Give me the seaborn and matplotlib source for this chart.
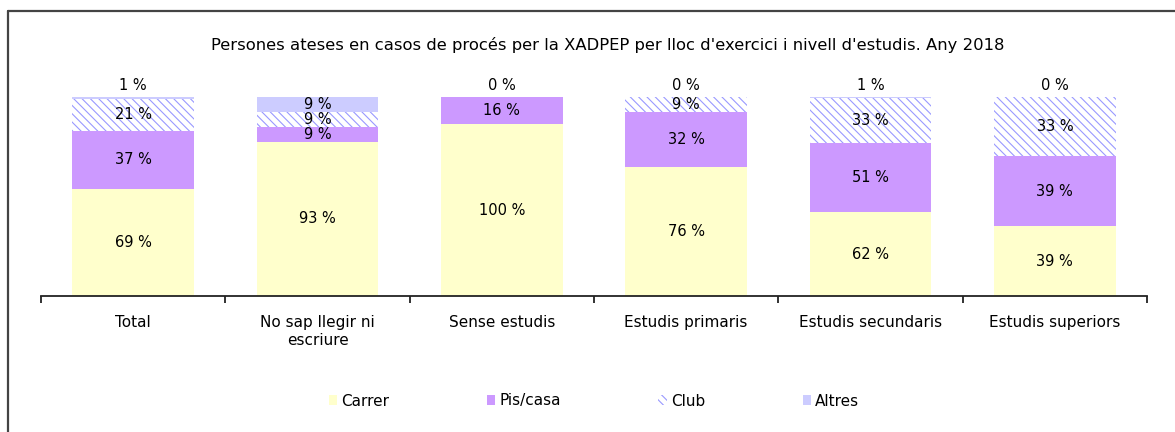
import numpy as np
import pandas as pd
import matplotlib
matplotlib.use("Agg")
import matplotlib.pyplot as plt
import seaborn as sns
from matplotlib.lines import Line2D
from matplotlib.patches import Patch

# Dades
categories = ["Total", "No sap llegir ni\nescriure", "Sense estudis",
              "Estudis primaris", "Estudis secundaris", "Estudis superiors"]
series = ["Carrer", "Pis/casa", "Club", "Altres"]
carrer = [69, 93, 100, 76, 62, 39]
pis_casa = [37, 9, 16, 32, 51, 39]
club = [21, 9, 0, 9, 33, 33]
altres = [1, 9, 0, 0, 1, 0]

colors = {"Carrer": "#FFFFCC", "Pis/casa": "#CC99FF", "Club": "white", "Altres": "#CCCCFF"}
hatches = {"Carrer": "", "Pis/casa": "", "Club": "\\\\\\\\", "Altres": ""}

df = pd.DataFrame({"cat": categories, "Carrer": carrer, "Pis/casa": pis_casa,
                   "Club": club, "Altres": altres})
# 100% apilat: cada segment com a part de la suma de la categoria
share = df[series].div(df[series].sum(axis=1), axis=0) * 100
cum = share.cumsum(axis=1)

sns.set_style("white")
plt.rcParams["font.family"] = ["DejaVu Sans"]
plt.rcParams["text.color"] = "black"
plt.rcParams["xtick.color"] = "black"
plt.rcParams["hatch.linewidth"] = 0.8

FS = 11

fig = plt.figure(figsize=(11.75, 4.32), dpi=100)
ax = fig.add_axes([41 / 1175, 1 - 296 / 432, (1147 - 41) / 1175, (296 - 97) / 432])

# capes de dalt a baix, cada una tapa la part inferior de l'anterior
for s in reversed(series):
    plot_df = pd.DataFrame({"cat": categories, "val": cum[s].values})
    sns.barplot(data=plot_df, x="cat", y="val", ax=ax, color=colors[s], width=0.66,
                hatch=hatches[s], edgecolor="#9999FF" if s == "Club" else colors[s],
                linewidth=0, saturation=1)

# etiquetes
for i in range(len(categories)):
    for s in series:
        v = df.loc[i, s]
        top = cum.loc[i, s]
        h = share.loc[i, s]
        if s == "Altres":
            y = top - h / 2 if h > 4 else 106
        else:
            if v == 0:
                continue
            y = top - h / 2
        ax.text(i, y, f"{v} %", ha="center", va="center", fontsize=FS - 0.5, color="black")

ax.set_ylim(0, 100)
ax.set_xlim(-0.5, len(categories) - 0.5)
ax.set_xlabel("")
ax.set_ylabel("")
ax.set_yticks([])
for sp in ["left", "right", "top"]:
    ax.spines[sp].set_visible(False)
ax.spines["bottom"].set_color("#222222")
ax.spines["bottom"].set_linewidth(1.3)
ax.set_xticks(np.arange(len(categories)))
ax.set_xticklabels(categories, fontsize=FS)
ax.set_xticks(np.arange(-0.5, len(categories)), minor=True)
ax.tick_params(axis="x", which="major", bottom=True, length=0, pad=14)
ax.tick_params(axis="x", which="minor", bottom=True, length=5, width=1.3,
               color="#222222", direction="out")

fig.text(608 / 1175, 1 - 45 / 432,
         "Persones ateses en casos de procés per la XADPEP per lloc d'exercici i nivell d'estudis. Any 2018",
         ha="center", va="center", fontsize=FS + 0.8)

handles = [Patch(facecolor=colors[s], edgecolor="#9999FF" if s == "Club" else colors[s],
                 hatch=hatches[s], linewidth=0) for s in series]
fig.legend(handles, series, loc="center", bbox_to_anchor=(594 / 1175, 1 - 401 / 432),
           ncol=4, frameon=False, fontsize=FS, handlelength=0.55, handleheight=0.55,
           handletextpad=0.25, columnspacing=6.4)

# marc
fig.add_artist(Line2D([8 / 1175, 1], [1 - 11 / 432, 1 - 11 / 432], transform=fig.transFigure,
                      color="#444444", linewidth=1.6))
fig.add_artist(Line2D([8 / 1175, 8 / 1175], [0, 1 - 11 / 432], transform=fig.transFigure,
                      color="#444444", linewidth=1.6))

fig.savefig("out.png", dpi=100)
